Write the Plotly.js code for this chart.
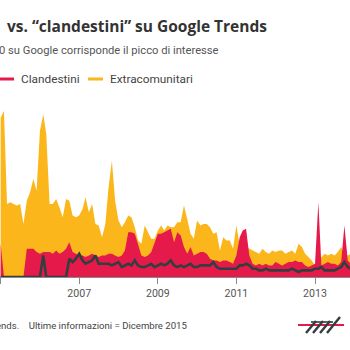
<!DOCTYPE html>
<html>
<head>
<meta charset="utf-8">
<script src="https://cdn.plot.ly/plotly-3.0.1.min.js"></script>
<style>
html,body{margin:0;padding:0;background:#fff;overflow:hidden;}
#chart{width:350px;height:350px;}
</style>
</head>
<body>
<div id="chart"></div>
<script>
// Monthly Google Trends index, starting January 2005
const startYear = 2005;
const extracomunitari = [96,100,44,45,44,43,44,32,46,51,59,52,88,98,86,44,44,47,42,36,47,46,37,36,
  37,41,48,39,44,32,31,24,32,54,70,46,34,30,33,37,36,30,22,20,31,27,23,23,28,31,28,31,30,30,
  33,33,43,35,26,23,34,31,32,32,30,26,27,16,24,22,22,17,31,19,18,18,17,16,15,14,17,15,14,16,
  15,16,16,14,15,16,14,20,18,14,12,10,7,10,12,14,13,14,13,15,18,14,13,14];
const clandestini = [20,0,0,0,0,0,0,0,17,17,17,15,14,15,15,15,14,16,14,15,17,21,15,14,
  13,13,12,13,14,13,12,13,13,14,14,13,12,13,16,27,27,26,20,13,12,13,15,21,26,26,27,28,29,21,
  27,25,18,14,18,13,14,15,15,14,11,10,10,9,10,10,9,8,13,24,28,29,13,8,7,8,7,8,7,7,
  9,8,7,8,9,9,10,9,9,7,6,7,8,45,7,8,9,8,8,7,9,31,10,8];
const terzaSerie = [0,0,0,0,0,0,0,0,0,0,0,0,0,13,0,0,0,0,0,0,0,11,9,11,
  14,10,8,9,10,13,8,8,8,8,7,8,9,6,7,8,7,10,7,6,6,7,8,6,7,8,7,8,10,7,
  6,7,6,7,8,6,6,7,7,7,7,9,6,5,5,5,5,5,5,7,7,8,7,5,5,4,4,5,4,4,
  4,4,4,4,4,5,4,3,4,4,4,4,5,5,6,4,4,4,4,5,6,9,6,5];
const tickYears = ['2005','2007','2009','2011','2013'];

const months = extracomunitari.map((_, i) => {
  const y = startYear + Math.floor(i / 12);
  const m = (i % 12) + 1;
  return y + '-' + (m < 10 ? '0' + m : m) + '-01';
});

const YELLOW = '#FBB61B', RED = '#E6194B', DARK = '#333E3F';

const traces = [
  {x: months, y: extracomunitari, type: 'scatter', mode: 'lines', fill: 'tozeroy',
   line: {width: 0, color: YELLOW}, fillcolor: YELLOW, name: 'Extracomunitari', hoverinfo: 'x+y'},
  {x: months, y: clandestini, type: 'scatter', mode: 'lines', fill: 'tozeroy',
   line: {width: 0, color: RED}, fillcolor: RED, name: 'Clandestini', hoverinfo: 'x+y'},
  {x: months, y: terzaSerie, type: 'scatter', mode: 'lines',
   line: {width: 2.6, color: DARK}, name: 'Immigrati', hoverinfo: 'x+y'}
];

const W = 350, TOP = 111, BOT = 277, H = BOT - TOP;
const px = X => X / W;
const py = Y => (BOT - Y) / H;

const FONT = 'Roboto, sans-serif';
const annotations = [
  {text: 'vs. “clandestini” su Google Trends', x: px(5), y: py(26),
   xanchor: 'left', yanchor: 'middle', font: {family: '"Open Sans", sans-serif', size: 15.5, color: '#333333', weight: 700}},
  {text: 'Il valore 100 su Google corrisponde il picco di interesse', x: px(221), y: py(50),
   xanchor: 'right', yanchor: 'middle', font: {family: FONT, size: 11.2, color: '#555555'}},
  {text: 'Clandestini', x: px(18.5), y: py(79), xanchor: 'left', yanchor: 'middle',
   font: {family: FONT, size: 11.8, color: '#444444'}},
  {text: 'Extracomunitari', x: px(107.5), y: py(79), xanchor: 'left', yanchor: 'middle',
   font: {family: FONT, size: 11.8, color: '#444444'}},
  {text: 'Fonte: Google Trends.\u00a0\u00a0\u00a0 Ultime informazioni = Dicembre 2015', x: px(189), y: py(325),
   xanchor: 'right', yanchor: 'middle', font: {family: FONT, size: 9.6, color: '#444444'}}
].map(a => Object.assign({xref: 'paper', yref: 'paper', showarrow: false}, a));

function seg(x0, y0, x1, y1, color, w) {
  return {type: 'line', xref: 'paper', yref: 'paper', x0: px(x0), y0: py(y0), x1: px(x1), y1: py(y1),
          line: {color: color, width: w}};
}
const shapes = [
  seg(-6, 79, 14, 79, RED, 3),
  seg(88, 79, 103, 79, YELLOW, 3),
  seg(298, 325, 344, 325, RED, 2),
  seg(306, 333, 316, 321, DARK, 2.4),
  seg(313, 333, 323, 321, DARK, 2.4),
  seg(320, 333, 330, 321, DARK, 2.4),
  seg(327, 333, 340, 317, DARK, 2.4),
  seg(311, 322, 333, 322, DARK, 1.6)
];

const layout = {
  width: 350, height: 350,
  margin: {l: 0, r: 0, t: TOP, b: 350 - BOT, pad: 0},
  paper_bgcolor: '#ffffff', plot_bgcolor: '#ffffff',
  showlegend: false,
  xaxis: {type: 'date', range: ['2004-12-26', '2013-11-22'],
          tickvals: tickYears.map(y => y + '-01-01'), ticktext: tickYears,
          showgrid: false, zeroline: false, showline: true, linecolor: '#8a8a8a', linewidth: 1,
          ticks: 'outside', ticklen: 6, tickcolor: '#8a8a8a', tickwidth: 1,
          tickfont: {family: FONT, size: 10.6, color: '#555555'}},
  yaxis: {range: [0, 100], showgrid: false, zeroline: false, showticklabels: false, showline: false, ticks: ''},
  annotations: annotations,
  shapes: shapes
};

Plotly.newPlot('chart', traces, layout, {displayModeBar: false, staticPlot: true});
</script>
</body>
</html>
